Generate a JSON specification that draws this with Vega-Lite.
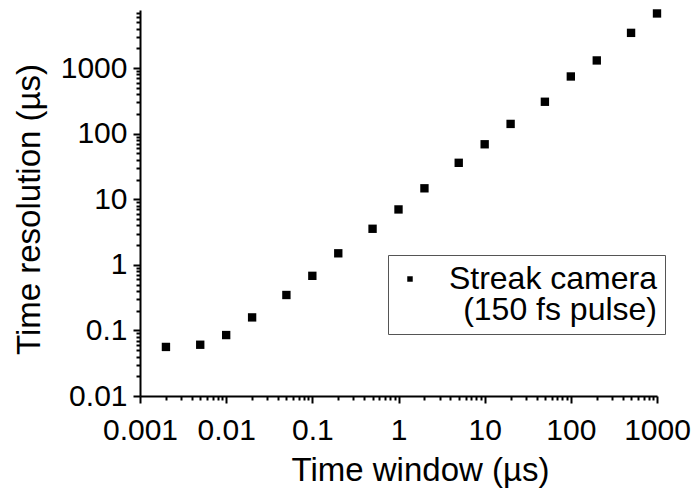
{
  "$schema": "https://vega.github.io/schema/vega-lite/v6.json",
  "width": 517,
  "height": 386,
  "autosize": "none",
  "padding": {"left": 140, "top": 10, "right": 42, "bottom": 92},
  "background": "white",
  "config": {
    "view": {"stroke": null},
    "font": "Liberation Sans",
    "style": {"guide-label": {"lineHeight": 31}},
    "axis": {
      "grid": false,
      "domainColor": "black",
      "domainWidth": 2,
      "tickColor": "black",
      "tickWidth": 2,
      "labelColor": "black",
      "labelFont": "Liberation Sans",
      "labelFontSize": 30,
      "labelFontWeight": "normal",
      "titleColor": "black",
      "titleFont": "Liberation Sans",
      "titleFontSize": 33,
      "titleFontWeight": "normal",
      "labelOverlap": false,
      "labelFlush": false
    }
  },
  "data": {
    "values": [
      {"window": 0.002, "resolution": 0.056, "series": "Streak camera"},
      {"window": 0.005, "resolution": 0.0605, "series": "Streak camera"},
      {"window": 0.01, "resolution": 0.085, "series": "Streak camera"},
      {"window": 0.02, "resolution": 0.158, "series": "Streak camera"},
      {"window": 0.05, "resolution": 0.347, "series": "Streak camera"},
      {"window": 0.1, "resolution": 0.68, "series": "Streak camera"},
      {"window": 0.2, "resolution": 1.5, "series": "Streak camera"},
      {"window": 0.5, "resolution": 3.55, "series": "Streak camera"},
      {"window": 1, "resolution": 7.0, "series": "Streak camera"},
      {"window": 2, "resolution": 14.7, "series": "Streak camera"},
      {"window": 5, "resolution": 36, "series": "Streak camera"},
      {"window": 10, "resolution": 69, "series": "Streak camera"},
      {"window": 20, "resolution": 141, "series": "Streak camera"},
      {"window": 50, "resolution": 307, "series": "Streak camera"},
      {"window": 100, "resolution": 746, "series": "Streak camera"},
      {"window": 200, "resolution": 1310, "series": "Streak camera"},
      {"window": 500, "resolution": 3450, "series": "Streak camera"},
      {"window": 1000, "resolution": 6820, "series": "Streak camera"}
    ]
  },
  "mark": {"type": "point", "filled": true, "size": 70, "color": "black", "opacity": 1, "strokeWidth": 0},
  "encoding": {
    "x": {
      "field": "window",
      "type": "quantitative",
      "title": "Time window (µs)",
      "scale": {"type": "log", "domain": [0.001, 1000], "nice": false},
      "axis": {
        "values": [0.001,0.002,0.003,0.004,0.005,0.006,0.007,0.008,0.009,0.01,0.02,0.03,0.04,0.05,0.06,0.07,0.08,0.09,0.1,0.2,0.3,0.4,0.5,0.6,0.7,0.8,0.9,1,2,3,4,5,6,7,8,9,10,20,30,40,50,60,70,80,90,100,200,300,400,500,600,700,800,900,1000],
        "format": "~g",
        "labelExpr": "abs(log(datum.value)/LN10 - round(log(datum.value)/LN10)) < 1e-6 ? datum.label : ''",
        "tickSize": {"condition": {"test": "abs(log(datum.value)/LN10 - round(log(datum.value)/LN10)) < 1e-6", "value": 7}, "value": 4},
        "labelPadding": 12,
        "titlePadding": 9,
        "titleX": 280,
        "titleAlign": "center"
      }
    },
    "y": {
      "field": "resolution",
      "type": "quantitative",
      "title": "Time resolution (µs)",
      "scale": {"type": "log", "domain": [0.01, 7700], "nice": false},
      "axis": {
        "values": [0.01,0.02,0.03,0.04,0.05,0.06,0.07,0.08,0.09,0.1,0.2,0.3,0.4,0.5,0.6,0.7,0.8,0.9,1,2,3,4,5,6,7,8,9,10,20,30,40,50,60,70,80,90,100,200,300,400,500,600,700,800,900,1000,2000,3000,4000,5000,6000,7000],
        "format": "~g",
        "labelExpr": "abs(log(datum.value)/LN10 - round(log(datum.value)/LN10)) < 1e-6 ? datum.label : ''",
        "tickSize": {"condition": {"test": "abs(log(datum.value)/LN10 - round(log(datum.value)/LN10)) < 1e-6", "value": 7}, "value": 4},
        "labelPadding": 6,
        "titlePadding": 14,
        "titleY": 199,
        "titleAlign": "center"
      }
    },
    "shape": {
      "field": "series",
      "type": "nominal",
      "scale": {"range": ["square"]},
      "legend": {
        "title": null,
        "orient": "none",
        "legendX": 248,
        "legendY": 245,
        "strokeColor": "#555555",
        "fillColor": "white",
        "padding": 8,
        "symbolSize": 30,
        "symbolFillColor": "black",
        "symbolStrokeWidth": 0,
        "symbolOffset": -2,
        "labelOffset": 231,
        "labelAlign": "right",
        "labelFont": "Liberation Sans",
        "labelFontSize": 32,
        "labelColor": "black",
        "labelLimit": 400,
        "labelExpr": "['Streak camera', '(150 fs pulse)']"
      }
    }
  }
}
